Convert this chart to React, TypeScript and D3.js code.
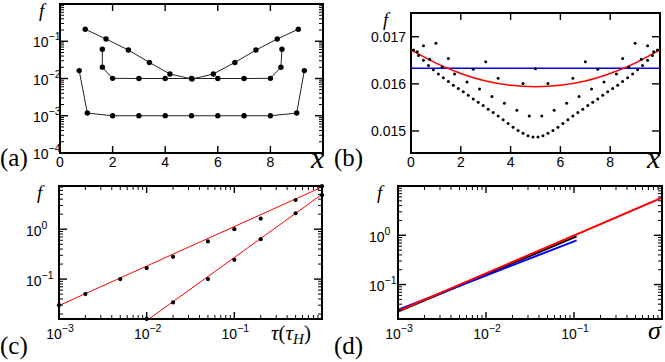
import React from 'react';
import * as d3 from 'd3';

// ---------- Panel (a) ----------
const aS1X = [0.96, 1.75, 2.6, 3.4, 4.18, 5.02, 5.83, 6.65, 7.45, 8.26, 9.06];
const aS1Y = [0.21, 0.115, 0.058, 0.027, 0.0132, 0.0097, 0.0132, 0.027, 0.058, 0.115, 0.21];
const aS2X = [1.61, 1.61, 2, 3, 4, 5, 6, 7, 8, 8.4, 8.44];
const aS2Y = [0.061, 0.02, 0.0101, 0.01, 0.01, 0.01, 0.01, 0.01, 0.0101, 0.02, 0.061];
const aS3X = [0.73, 1.04, 2, 3, 4, 5, 6, 7, 8, 9, 9.29];
const aS3Y = [0.0163, 0.00118, 0.001, 0.001, 0.001, 0.001, 0.001, 0.001, 0.001, 0.00118, 0.0163];
const aXTicks = [0, 2, 4, 6, 8, 10];
const aXLabels = ['0', '2', '4', '6', '8'];
const aYLabels = ['−1', '−2', '−3', '−4'];

// ---------- Panel (b) ----------
const bDenseX = [0.1, 0.3, 0.5, 0.7, 0.9, 1.1, 1.3, 1.5, 1.7, 1.9, 2.1, 2.3, 2.5, 2.7, 2.9, 3.1, 3.3, 3.5, 3.7, 3.9, 4.1, 4.3, 4.5, 4.7, 4.9,
  5.1, 5.3, 5.5, 5.7, 5.9, 6.1, 6.3, 6.5, 6.7, 6.9, 7.1, 7.3, 7.5, 7.7, 7.9, 8.1, 8.3, 8.5, 8.7, 8.9, 9.1, 9.3, 9.5, 9.7, 9.9];
const bDenseY = [0.01672, 0.0166, 0.0165, 0.01639, 0.0163, 0.01621, 0.01613, 0.01605, 0.01597, 0.0159, 0.01583, 0.01576, 0.01568,
  0.01561, 0.01554, 0.01546, 0.01539, 0.01532, 0.01524, 0.01516, 0.01508, 0.01501, 0.01495, 0.0149, 0.01487,
  0.01487, 0.0149, 0.01495, 0.01501, 0.01508, 0.01516, 0.01524, 0.01532, 0.01539, 0.01546, 0.01554, 0.01561, 0.01568,
  0.01576, 0.01583, 0.0159, 0.01597, 0.01605, 0.01613, 0.01621, 0.0163, 0.01639, 0.0165, 0.0166, 0.01672];
const bMidX = [0.25, 0.75, 1.25, 1.75, 2.25, 2.75, 3.25, 3.75, 4.25, 4.75, 5.25, 5.75, 6.25, 6.75, 7.25, 7.75, 8.25, 8.75, 9.25, 9.75];
const bMidY = [0.01668, 0.01652, 0.01636, 0.01621, 0.01604, 0.01589, 0.01573, 0.01559, 0.01544, 0.01532,
  0.01532, 0.01544, 0.01559, 0.01573, 0.01589, 0.01604, 0.01621, 0.01636, 0.01652, 0.01668];
const bOscX = [0.5, 1, 1.5, 2.5, 3, 3.5, 4.5, 5, 5.5, 6.5, 7, 7.5, 8.5, 9, 9.5];
const bOscY = [0.01681, 0.01686, 0.01654, 0.01631, 0.01647, 0.01612, 0.01601, 0.01632, 0.01601, 0.01612, 0.01647, 0.01631, 0.01654, 0.01686, 0.01681];
const bRedX = [0, 1, 2, 3, 4, 5, 6, 7, 8, 9, 10];
const bRedY = [0.01672, 0.01644, 0.01622, 0.01606, 0.01597, 0.01594, 0.01597, 0.01606, 0.01622, 0.01644, 0.01672];
const bBlueX = [0, 10];
const bBlueY = [0.01633, 0.01633];
const bYTicks = [0.015, 0.016, 0.017];
const bYLabels = ['0.015', '0.016', '0.017'];

// ---------- Panel (c) ----------
const cUpX = [0.001, 0.002, 0.005, 0.01, 0.02, 0.05, 0.1, 0.2, 0.5, 1];
const cUpY = [0.03, 0.05, 0.1, 0.166, 0.28, 0.57, 1.0, 1.63, 3.85, 7.3];
const cLoX = [0.01, 0.02, 0.05, 0.1, 0.2, 0.5, 1];
const cLoY = [0.0159, 0.034, 0.1, 0.243, 0.63, 2.09, 4.8];
const cFitUpX = [0.001, 1];
const cFitUpY = [0.0295, 7.0];
const cFitLoX = [0.01, 1];
const cFitLoY = [0.0147, 5.0];

// ---------- Panel (d) ----------
const dRedX = [0.001, 1];
const dRedY = [0.0288, 5.8];
const dBlackX = [0.001, 0.107];
const dBlackY = [0.0283, 0.95];
const dBlueX = [0.001, 0.107];
const dBlueY = [0.0308, 0.79];

const SANS = '"Liberation Sans", Arial, Helvetica, sans-serif';
const SERIF = '"Liberation Serif", "Times New Roman", serif';

type Box = { l: number; t: number; r: number; b: number };

const isPow10 = (v: number) => Math.abs(Math.log10(v) - Math.round(Math.log10(v))) < 1e-6;

function TicksX({ scale, box, values, major }: any) {
  return (
    <g stroke="#000">
      {values.map((v: number, i: number) => {
        const px = scale(v);
        const len = major(v) ? 7 : 4;
        return (
          <g key={i} strokeWidth={major(v) ? 1.4 : 1}>
            <line x1={px} x2={px} y1={box.b} y2={box.b - len} />
            <line x1={px} x2={px} y1={box.t} y2={box.t + len} />
          </g>
        );
      })}
    </g>
  );
}

function TicksY({ scale, box, values, major }: any) {
  return (
    <g stroke="#000">
      {values.map((v: number, i: number) => {
        const py = scale(v);
        const len = major(v) ? 8 : 4;
        return (
          <g key={i} strokeWidth={major(v) ? 1.4 : 1}>
            <line x1={box.l} x2={box.l + len} y1={py} y2={py} />
            <line x1={box.r} x2={box.r - len} y1={py} y2={py} />
          </g>
        );
      })}
    </g>
  );
}

function Frame({ box }: { box: Box }) {
  return <rect x={box.l} y={box.t} width={box.r - box.l} height={box.b - box.t} fill="none" stroke="#000" strokeWidth={2} />;
}

function Pow({ x, y, exp, anchor }: any) {
  return (
    <text x={x} y={y} textAnchor={anchor} fontFamily={SANS} fontSize={14} fill="#000">
      10<tspan dy={-7} fontSize={10.5}>{exp}</tspan>
    </text>
  );
}

export default function App() {
  // Panel (a)
  const A: Box = { l: 60, t: 4, r: 323, b: 153 };
  const ax = d3.scaleLinear().domain([0, 10]).range([A.l, A.r]);
  const ay = d3.scaleLog().domain([1e-4, 1]).range([A.b, A.t]);
  const aLine = (xs: number[], ys: number[]) =>
    d3.line<number>().x((_, i) => ax(xs[i])).y((_, i) => ay(ys[i]))(xs.map((_, i) => i)) || '';
  const aSeries = [[aS1X, aS1Y], [aS2X, aS2Y], [aS3X, aS3Y]];

  // Panel (b)
  const B: Box = { l: 411, t: 13, r: 660, b: 153 };
  const bx = d3.scaleLinear().domain([0, 10]).range([B.l, B.r]);
  const by = d3.scaleLinear().domain([0.014533, 0.017503]).range([B.b, B.t]);
  const bRed = d3.line<number>().x((_, i) => bx(bRedX[i])).y((_, i) => by(bRedY[i])).curve(d3.curveNatural)(bRedX.map((_, i) => i)) || '';
  const bBlue = d3.line<number>().x((_, i) => bx(bBlueX[i])).y((_, i) => by(bBlueY[i]))(bBlueX.map((_, i) => i)) || '';

  // Panel (c)
  const C: Box = { l: 59, t: 186, r: 322, b: 319 };
  const cx = d3.scaleLog().domain([1e-3, 1]).range([C.l, C.r]);
  const cy = d3.scaleLog().domain([Math.pow(10, -1.8), Math.pow(10, 0.866)]).range([C.b, C.t]);
  const cLine = (xs: number[], ys: number[]) =>
    d3.line<number>().x((_, i) => cx(xs[i])).y((_, i) => cy(ys[i]))(xs.map((_, i) => i)) || '';

  // Panel (d)
  const D: Box = { l: 398, t: 186, r: 662, b: 319 };
  const dx = d3.scaleLog().domain([1e-3, 1]).range([D.l, D.r]);
  const dy = d3.scaleLog().domain([0.02, 10]).range([D.b, D.t]);
  const dLine = (xs: number[], ys: number[]) =>
    d3.line<number>().x((_, i) => dx(xs[i])).y((_, i) => dy(ys[i]))(xs.map((_, i) => i)) || '';

  const logXTicks = cx.ticks();

  return (
    <svg width={665} height={362} style={{ position: 'absolute', left: 0, top: 0, background: '#fff' }}>
      <defs>
        <clipPath id="clipC"><rect x={C.l} y={C.t} width={C.r - C.l} height={C.b - C.t} /></clipPath>
        <clipPath id="clipD"><rect x={D.l} y={D.t} width={D.r - D.l} height={D.b - D.t} /></clipPath>
      </defs>

      {/* ===== Panel (a) ===== */}
      <g>
        <TicksX scale={ax} box={A} values={aXTicks} major={() => true} />
        <TicksY scale={ay} box={A} values={ay.ticks()} major={isPow10} />
        <Frame box={A} />
        {aSeries.map(([xs, ys], k) => (
          <g key={k}>
            <path d={aLine(xs, ys)} fill="none" stroke="#222" strokeWidth={1} />
            {xs.map((v, i) => (
              <circle key={i} cx={ax(v)} cy={ay(ys[i])} r={2.7} fill="#000" />
            ))}
          </g>
        ))}
        {aXLabels.map((s, i) => (
          <text key={i} x={ax(aXTicks[i])} y={167} textAnchor="middle" fontFamily={SANS} fontSize={14}>{s}</text>
        ))}
        {[0.1, 0.01, 0.001, 0.0001].map((v, i) => (
          <Pow key={i} x={33} y={ay(v) + 6} exp={aYLabels[i]} anchor="start" />
        ))}
        <text x={39} y={17} fontFamily={SERIF} fontStyle="italic" fontSize={19}>f</text>
        <text x={311} y={168} fontFamily={SERIF} fontStyle="italic" fontSize={30}>x</text>
        <text x={0} y={166} fontFamily={SERIF} fontSize={25}>(a)</text>
      </g>

      {/* ===== Panel (b) ===== */}
      <g>
        <TicksX scale={bx} box={B} values={aXTicks} major={() => true} />
        <TicksY scale={by} box={B} values={bYTicks} major={() => true} />
        <Frame box={B} />
        <path d={bBlue} fill="none" stroke="#0000ff" strokeWidth={1.6} />
        <path d={bRed} fill="none" stroke="#ff0000" strokeWidth={1.6} />
        {bDenseX.map((v, i) => <circle key={'d' + i} cx={bx(v)} cy={by(bDenseY[i])} r={1.5} fill="#000" />)}
        {bMidX.map((v, i) => <circle key={'m' + i} cx={bx(v)} cy={by(bMidY[i])} r={1.5} fill="#000" />)}
        {bOscX.map((v, i) => <circle key={'o' + i} cx={bx(v)} cy={by(bOscY[i])} r={1.5} fill="#000" />)}
        {aXLabels.map((s, i) => (
          <text key={i} x={bx(aXTicks[i])} y={167} textAnchor="middle" fontFamily={SANS} fontSize={14}>{s}</text>
        ))}
        {bYTicks.map((v, i) => (
          <text key={i} x={406} y={by(v) + 5} textAnchor="end" fontFamily={SANS} fontSize={14}>{bYLabels[i]}</text>
        ))}
        <text x={383} y={26} fontFamily={SERIF} fontStyle="italic" fontSize={19}>f</text>
        <text x={647} y={168} fontFamily={SERIF} fontStyle="italic" fontSize={30}>x</text>
        <text x={334} y={166} fontFamily={SERIF} fontSize={25}>(b)</text>
      </g>

      {/* ===== Panel (c) ===== */}
      <g>
        <g clipPath="url(#clipC)">
          <path d={cLine(cFitUpX, cFitUpY)} fill="none" stroke="#ff0000" strokeWidth={1} />
          <path d={cLine(cFitLoX, cFitLoY)} fill="none" stroke="#ff0000" strokeWidth={1} />
        </g>
        <TicksX scale={cx} box={C} values={logXTicks} major={isPow10} />
        <TicksY scale={cy} box={C} values={cy.ticks()} major={isPow10} />
        <Frame box={C} />
        {cUpX.map((v, i) => <circle key={'u' + i} cx={cx(v)} cy={cy(cUpY[i])} r={2.1} fill="#000" />)}
        {cLoX.map((v, i) => <circle key={'l' + i} cx={cx(v)} cy={cy(cLoY[i])} r={2.1} fill="#000" />)}
        {[[0.001, '−3'], [0.01, '−2'], [0.1, '−1']].map(([v, e]: any, i) => (
          <Pow key={i} x={cx(v) + 1} y={339} exp={e} anchor="middle" />
        ))}
        {[[1, '0'], [0.1, '−1']].map(([v, e]: any, i) => (
          <Pow key={i} x={26} y={cy(v) + 6.5} exp={e} anchor="start" />
        ))}
        <text x={37} y={199} fontFamily={SERIF} fontStyle="italic" fontSize={19}>f</text>
        <text x={271} y={340} fontFamily={SERIF} fontSize={21}>
          <tspan fontStyle="italic">τ</tspan>(<tspan fontStyle="italic">τ</tspan><tspan fontStyle="italic" fontSize={15} dy={4}>H</tspan><tspan dy={-4}>)</tspan>
        </text>
        <text x={0} y={354} fontFamily={SERIF} fontSize={25}>(c)</text>
      </g>

      {/* ===== Panel (d) ===== */}
      <g>
        <g clipPath="url(#clipD)">
          <path d={dLine(dBlackX, dBlackY)} fill="none" stroke="#000" strokeWidth={2} />
          <path d={dLine(dBlueX, dBlueY)} fill="none" stroke="#0000ff" strokeWidth={2} />
          <path d={dLine(dRedX, dRedY)} fill="none" stroke="#ff0000" strokeWidth={2} />
        </g>
        <TicksX scale={dx} box={D} values={dx.ticks()} major={isPow10} />
        <TicksY scale={dy} box={D} values={dy.ticks()} major={isPow10} />
        <Frame box={D} />
        {[[0.001, '−3'], [0.01, '−2'], [0.1, '−1']].map(([v, e]: any, i) => (
          <Pow key={i} x={dx(v) + 1} y={339} exp={e} anchor="middle" />
        ))}
        {[[1, '0'], [0.1, '−1']].map(([v, e]: any, i) => (
          <Pow key={i} x={369} y={dy(v) + 6.5} exp={e} anchor="start" />
        ))}
        <text x={377} y={199} fontFamily={SERIF} fontStyle="italic" fontSize={19}>f</text>
        <text x={648} y={339} fontFamily={SERIF} fontStyle="italic" fontSize={26}>σ</text>
        <text x={334} y={354} fontFamily={SERIF} fontSize={25}>(d)</text>
      </g>
    </svg>
  );
}
